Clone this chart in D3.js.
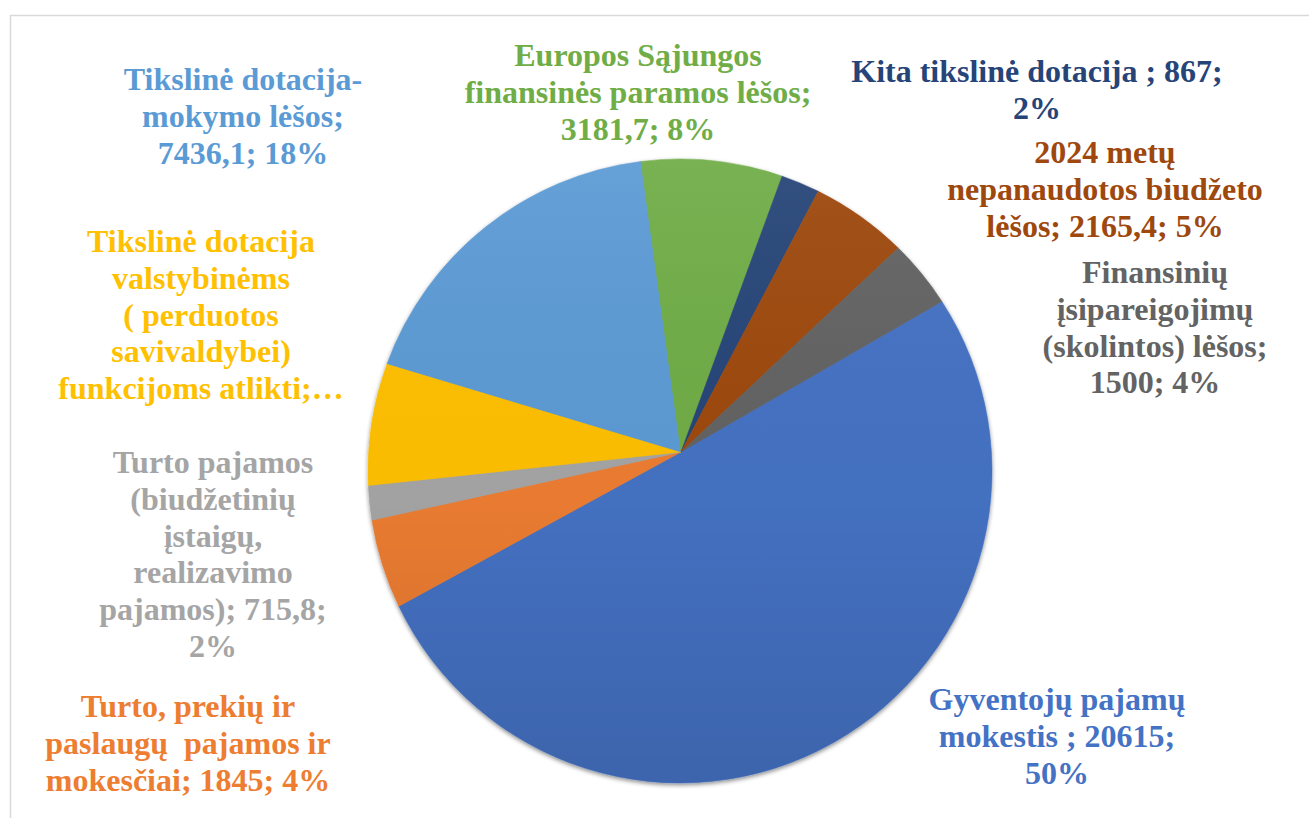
<!DOCTYPE html>
<html>
<head>
<meta charset="utf-8">
<script src="https://cdn.jsdelivr.net/npm/d3@7/dist/d3.min.js"></script>
<style>
  body { margin: 0; background: #fff; }
  svg { display: block; }
</style>
</head>
<body>
<svg id="chart" width="1309" height="818"></svg>
<script>
// data, in the order the slices run clockwise
var categories = [
    'Gyventojų pajamų mokestis',
    'Turto, prekių ir paslaugų pajamos ir mokesčiai',
    'Turto pajamos (biudžetinių įstaigų, realizavimo pajamos)',
    'Tikslinė dotacija valstybinėms (perduotos savivaldybei) funkcijoms atlikti',
    'Tikslinė dotacija- mokymo lėšos',
    'Europos Sąjungos finansinės paramos lėšos',
    'Kita tikslinė dotacija',
    '2024 metų nepanaudotos biudžeto lėšos',
    'Finansinių įsipareigojimų (skolintos) lėšos'
];
var values = [20615, 1845, 715.8, 2600, 7436.1, 3181.7, 867, 2165.4, 1500];
var colors = ['#4472C4', '#ED7D31', '#A5A5A5', '#FFC000', '#5B9BD5', '#70AD47', '#264478', '#9E480E', '#636363'];

// label text, broken as in the chart
var labelLines = [
    ['Gyventojų pajamų', 'mokestis ; 20615;', '50%'],
    ['Turto, prekių ir', 'paslaugų\u00a0 pajamos ir', 'mokesčiai; 1845; 4%'],
    ['Turto pajamos', '(biudžetinių', 'įstaigų,', 'realizavimo', 'pajamos); 715,8;', '2%'],
    ['Tikslinė dotacija', 'valstybinėms', '( perduotos', 'savivaldybei)', 'funkcijoms atlikti;…'],
    ['Tikslinė dotacija-', 'mokymo lėšos;', '7436,1; 18%'],
    ['Europos Sąjungos', 'finansinės paramos lėšos;', '3181,7; 8%'],
    ['Kita tikslinė dotacija ; 867;', '2%'],
    ['2024 metų', 'nepanaudotos biudžeto', 'lėšos; 2165,4; 5%'],
    ['Finansinių', 'įsipareigojimų', '(skolintos) lėšos;', '1500; 4%']
];

// layout: label centre x and first baseline y
var labelPos = [
    [1057, 710], [188, 717], [213, 473], [201, 252], [243, 90],
    [638, 66], [1037, 82], [1105, 163], [1155, 283]
];

// outline circle, and the point where the wedges meet (sits a bit above centre)
var cx = 680, cy = 471, radius = 312;
var apexX = 681, apexY = 452;
var lineHeight = 36.8;
var startAngle = 60 * Math.PI / 180;

var svg = d3.select('#chart');
var defs = svg.append('defs');

var shadow = defs.append('filter').attr('id', 'shadow')
    .attr('x', '-10%').attr('y', '-10%').attr('width', '120%').attr('height', '120%');
shadow.append('feDropShadow')
    .attr('dx', 0).attr('dy', 2).attr('stdDeviation', 2)
    .attr('flood-color', '#000').attr('flood-opacity', 0.45);

var shade = defs.append('linearGradient').attr('id', 'shade')
    .attr('x1', 0).attr('y1', 0).attr('x2', 0).attr('y2', 1);
shade.append('stop').attr('offset', '0%').attr('stop-color', '#fff').attr('stop-opacity', 0.06);
shade.append('stop').attr('offset', '55%').attr('stop-color', '#000').attr('stop-opacity', 0.02);
shade.append('stop').attr('offset', '100%').attr('stop-color', '#000').attr('stop-opacity', 0.12);

// chart frame
svg.append('rect')
    .attr('x', 10.5).attr('y', 15.5)
    .attr('width', 1400).attr('height', 900)
    .attr('fill', 'none').attr('stroke', '#d9d9d9').attr('stroke-width', 1.5);

var pie = d3.pie()
    .sort(null)
    .startAngle(startAngle)
    .endAngle(startAngle + 2 * Math.PI);

// point where a ray from the apex (angle clockwise from top) meets the outline
function edgePoint(a) {
    var ox = apexX - cx, oy = apexY - cy;
    var ux = Math.sin(a), uy = -Math.cos(a);
    var b = ox * ux + oy * uy;
    var t = -b + Math.sqrt(b * b - (ox * ox + oy * oy) + radius * radius);
    return [apexX + t * ux, apexY + t * uy];
}

function wedge(d) {
    var p1 = edgePoint(d.startAngle), p2 = edgePoint(d.endAngle);
    var a1 = Math.atan2(p1[1] - cy, p1[0] - cx),
        a2 = Math.atan2(p2[1] - cy, p2[0] - cx);
    var p = d3.path();
    p.moveTo(apexX, apexY);
    p.lineTo(p1[0], p1[1]);
    p.arc(cx, cy, radius, a1, a2, false);
    p.closePath();
    return p.toString();
}

var slices = svg.append('g').attr('filter', 'url(#shadow)');
slices.selectAll('path')
    .data(pie(values))
    .enter().append('path')
    .attr('d', wedge)
    .attr('fill', function (d, i) { return colors[i]; })
    .attr('stroke', function (d, i) { return colors[i]; })
    .attr('stroke-width', 0.5);

svg.append('circle')
    .attr('cx', cx).attr('cy', cy)
    .attr('r', radius)
    .attr('fill', 'url(#shade)')
    .attr('pointer-events', 'none');

// labels
var labels = svg.append('g')
    .attr('font-family', '"Liberation Serif", "Times New Roman", serif')
    .attr('font-weight', 'bold')
    .attr('font-size', '32px')
    .attr('text-anchor', 'middle');

labels.selectAll('text')
    .data(labelLines)
    .enter().append('text')
    .attr('fill', function (d, i) { return colors[i]; })
    .each(function (lines, i) {
        var t = d3.select(this);
        lines.forEach(function (line, j) {
            t.append('tspan')
                .attr('x', labelPos[i][0])
                .attr('y', labelPos[i][1] + j * lineHeight)
                .text(line);
        });
    });
</script>
</body>
</html>
